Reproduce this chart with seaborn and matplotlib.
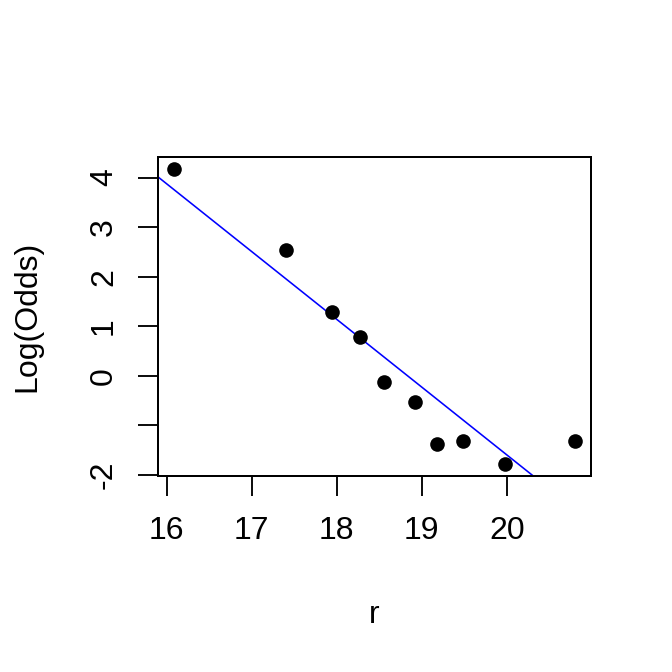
import matplotlib
matplotlib.use("Agg")
import matplotlib.pyplot as plt
import seaborn as sns
import numpy as np
import pandas as pd

# Data
r_values = [16.08, 17.40, 17.94, 18.27, 18.55, 18.92, 19.18, 19.49, 19.98, 20.80]
log_odds = [4.18, 2.53, 1.29, 0.79, -0.12, -0.54, -1.37, -1.31, -1.79, -1.31]
fit_intercept = 25.76
fit_slope = -1.368
x_ticks = [16, 17, 18, 19, 20]
x_ticklabels = ["16", "17", "18", "19", "20"]
y_ticks = [-2, -1, 0, 1, 2, 3, 4]
y_ticklabels = ["-2", "", "0", "1", "2", "3", "4"]

df = pd.DataFrame({"r": r_values, "logodds": log_odds})

sns.set_style("ticks")
plt.rcParams["font.family"] = ["Liberation Sans", "DejaVu Sans"]
plt.rcParams["text.color"] = "black"
plt.rcParams["axes.labelcolor"] = "black"

fig = plt.figure(figsize=(7, 7), dpi=96)
W = H = 672
left, right, top, bottom = 157.7, 591.0, 156.7, 475.7
ax = fig.add_axes([left / W, 1 - bottom / H, (right - left) / W, (bottom - top) / H])

sns.scatterplot(data=df, x="r", y="logodds", ax=ax, color="black", s=120,
                edgecolor="black", linewidth=0, zorder=3)
ax.axline((0, fit_intercept), slope=fit_slope, color="#0000FF", linewidth=1.2, zorder=2)

ax.set_xlim(15.894, 20.99)
ax.set_ylim(-2.02, 4.42)

ax.set_xticks(x_ticks)
ax.set_xticklabels(x_ticklabels)
ax.set_yticks(y_ticks)
ax.set_yticklabels(y_ticklabels, rotation=90, va="center")

fs = 24
ax.tick_params(axis="both", direction="out", length=15, width=1.4, color="black",
               labelsize=fs, labelcolor="black")
ax.tick_params(axis="x", pad=15)
ax.tick_params(axis="y", pad=14)

for s in ax.spines.values():
    s.set_linewidth(1.5)
    s.set_color("black")

ax.set_xlabel("r", fontsize=fs, color="black")
ax.set_ylabel("Log(Odds)", fontsize=fs, color="black")
ax.xaxis.label.set_va("baseline")
ax.xaxis.set_label_coords(0.5, (672 - 623 - (672 - bottom)) / (bottom - top))
ax.yaxis.label.set_va("center")
ax.yaxis.set_label_coords((27 - left) / (right - left), 0.5)

fig.savefig("out.png", dpi=96, facecolor="white")
